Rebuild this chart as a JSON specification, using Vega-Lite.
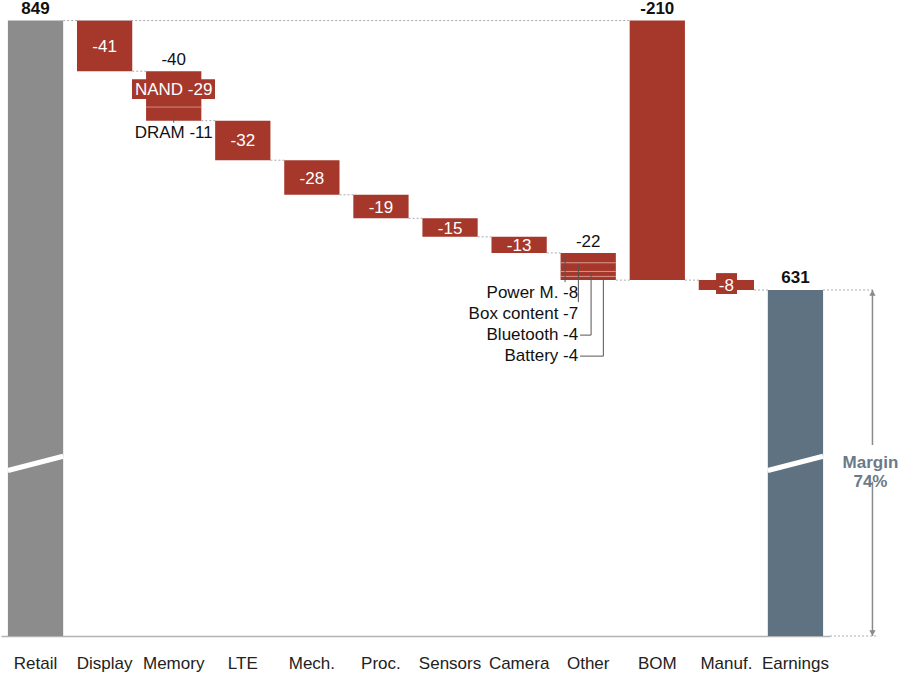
{
  "$schema": "https://vega.github.io/schema/vega-lite/v6.json",
  "width": 829,
  "height": 636,
  "autosize": {"type": "none"},
  "padding": {"left": 1, "top": 0, "right": 70, "bottom": 44},
  "background": "white",
  "config": {
    "view": {"stroke": null},
    "font": "Liberation Sans",
    "text": {"font": "Liberation Sans", "fontSize": 17}
  },
  "datasets": {
    "bars": [
      {"cat": "Retail", "seg": "Retail", "start": 0, "end": 849, "kind": "total"},
      {"cat": "Display", "seg": "Display", "start": 849, "end": 808, "kind": "cost", "label": "-41"},
      {"cat": "Memory", "seg": "NAND", "start": 808, "end": 779, "kind": "cost", "label": "NAND -29"},
      {"cat": "Memory", "seg": "DRAM", "start": 779, "end": 768, "kind": "cost", "label": "DRAM -11"},
      {"cat": "LTE", "seg": "LTE", "start": 768, "end": 736, "kind": "cost", "label": "-32"},
      {"cat": "Mech.", "seg": "Mech.", "start": 736, "end": 708, "kind": "cost", "label": "-28"},
      {"cat": "Proc.", "seg": "Proc.", "start": 708, "end": 689, "kind": "cost", "label": "-19"},
      {"cat": "Sensors", "seg": "Sensors", "start": 689, "end": 674, "kind": "cost", "label": "-15"},
      {"cat": "Camera", "seg": "Camera", "start": 674, "end": 661, "kind": "cost", "label": "-13"},
      {"cat": "Other", "seg": "Power M.", "start": 661, "end": 653, "kind": "cost", "label": "Power M. -8"},
      {"cat": "Other", "seg": "Box content", "start": 653, "end": 646, "kind": "cost", "label": "Box content -7"},
      {"cat": "Other", "seg": "Bluetooth", "start": 646, "end": 642, "kind": "cost", "label": "Bluetooth -4"},
      {"cat": "Other", "seg": "Battery", "start": 642, "end": 639, "kind": "cost", "label": "Battery -4"},
      {"cat": "BOM", "seg": "BOM", "start": 849, "end": 639, "kind": "cost", "label": "-210"},
      {"cat": "Manuf.", "seg": "Manuf.", "start": 639, "end": 631, "kind": "cost", "label": "-8"},
      {"cat": "Earnings", "seg": "Earnings", "start": 0, "end": 631, "kind": "net", "label": "631"}
    ],
    "links": [
      {"from": "Retail", "to": "BOM", "value": 849},
      {"from": "Display", "to": "Memory", "value": 808},
      {"from": "Memory", "to": "LTE", "value": 768},
      {"from": "LTE", "to": "Mech.", "value": 736},
      {"from": "Mech.", "to": "Proc.", "value": 708},
      {"from": "Proc.", "to": "Sensors", "value": 689},
      {"from": "Sensors", "to": "Camera", "value": 674},
      {"from": "Camera", "to": "Other", "value": 661},
      {"from": "Other", "to": "BOM", "value": 639},
      {"from": "BOM", "to": "Manuf.", "value": 639},
      {"from": "Manuf.", "to": "Earnings", "value": 631}
    ],
    "tops": [
      {"cat": "Retail", "label": "849", "value": 849},
      {"cat": "BOM", "label": "-210", "value": 849},
      {"cat": "Earnings", "label": "631", "value": 631}
    ],
    "groups": [
      {"cat": "Memory", "label": "-40", "value": 808},
      {"cat": "Other", "label": "-22", "value": 661}
    ]
  },
  "layer": [
    {
      "data": {"name": "bars"},
      "mark": {"type": "bar"},
      "encoding": {
        "x": {
          "field": "cat", "type": "nominal",
          "scale": {"domain": ["Retail", "Display", "Memory", "LTE", "Mech.", "Proc.", "Sensors", "Camera", "Other", "BOM", "Manuf.", "Earnings"], "paddingInner": 0.2, "paddingOuter": 0.1},
          "axis": {"title": null, "orient": "bottom", "ticks": false, "domain": true, "domainColor": "#b3b3b3", "domainWidth": 1.5, "labels": true, "labelFontSize": 17, "labelFont": "Liberation Sans", "labelColor": "#222222", "labelPadding": 19, "labelAngle": 0, "grid": false}
        },
        "y": {"field": "start", "type": "quantitative", "scale": {"domain": [351.1, 865.6], "nice": false, "zero": false, "clamp": true}, "axis": null},
        "y2": {"field": "end"},
        "color": {"field": "kind", "type": "nominal", "scale": {"domain": ["total", "cost", "net"], "range": ["#8c8c8c", "#a5372b", "#5f7282"]}, "legend": null}
      }
    },
    {
      "data": {"name": "bars"},
      "transform": [{"filter": {"field": "kind", "oneOf": ["total", "net"]}}],
      "mark": {"type": "rule", "color": "white", "strokeWidth": 5},
      "encoding": {
        "x": {"field": "cat", "type": "nominal", "bandPosition": 0},
        "x2": {"field": "cat", "bandPosition": 1},
        "y": {"datum": 485, "type": "quantitative", "axis": null},
        "y2": {"datum": 496.5}
      }
    },
    {
      "data": {"name": "bars"},
      "transform": [{"filter": {"field": "seg", "oneOf": ["DRAM", "Box content", "Bluetooth", "Battery"]}}],
      "mark": {"type": "rule", "color": "#d68f85", "strokeWidth": 1},
      "encoding": {
        "x": {"field": "cat", "type": "nominal", "bandPosition": 0},
        "x2": {"field": "cat", "bandPosition": 1},
        "y": {"field": "start", "type": "quantitative", "axis": null}
      }
    },
    {
      "data": {"name": "links"},
      "mark": {"type": "rule", "color": "#aaaaaa", "strokeWidth": 1, "strokeDash": [2, 2]},
      "encoding": {
        "x": {"field": "from", "type": "nominal", "bandPosition": 1},
        "x2": {"field": "to", "bandPosition": 0},
        "y": {"field": "value", "type": "quantitative", "axis": null}
      }
    },
    {
      "data": {"name": "bars"},
      "transform": [{"filter": {"field": "seg", "equal": "NAND"}}],
      "mark": {"type": "rect", "color": "#a5372b", "yOffset": 8, "y2Offset": -8},
      "encoding": {
        "x": {"field": "cat", "type": "nominal", "bandPosition": -0.255},
        "x2": {"field": "cat", "bandPosition": 1.247},
        "y": {"field": "start", "type": "quantitative", "axis": null},
        "y2": {"field": "end"}
      }
    },
    {
      "data": {"name": "bars"},
      "transform": [{"filter": {"field": "seg", "equal": "Manuf."}}],
      "mark": {"type": "rect", "color": "#a5372b", "yOffset": -7, "y2Offset": 4},
      "encoding": {
        "x": {"field": "cat", "type": "nominal", "bandPosition": 0.313},
        "x2": {"field": "cat", "bandPosition": 0.693},
        "y": {"field": "start", "type": "quantitative", "axis": null},
        "y2": {"field": "end"}
      }
    },
    {
      "data": {"name": "bars"},
      "transform": [
        {"filter": {"field": "seg", "oneOf": ["Display", "NAND", "LTE", "Mech.", "Proc.", "Sensors", "Camera", "Manuf."]}},
        {"calculate": "(datum.start + datum.end) / 2", "as": "mid"}
      ],
      "mark": {"type": "text", "color": "white", "fontSize": 17, "baseline": "middle", "dy": 1},
      "encoding": {
        "x": {"field": "cat", "type": "nominal"},
        "y": {"field": "mid", "type": "quantitative", "axis": null},
        "text": {"field": "label"}
      }
    },
    {
      "data": {"name": "tops"},
      "mark": {"type": "text", "color": "#111111", "fontSize": 17, "fontWeight": "bold", "baseline": "middle", "dy": -12},
      "encoding": {
        "x": {"field": "cat", "type": "nominal"},
        "y": {"field": "value", "type": "quantitative", "axis": null},
        "text": {"field": "label"}
      }
    },
    {
      "data": {"name": "groups"},
      "mark": {"type": "text", "color": "#111111", "fontSize": 17, "baseline": "middle", "dy": -11},
      "encoding": {
        "x": {"field": "cat", "type": "nominal"},
        "y": {"field": "value", "type": "quantitative", "axis": null},
        "text": {"field": "label"}
      }
    },
    {
      "data": {"name": "bars"},
      "transform": [{"filter": {"field": "seg", "equal": "DRAM"}}],
      "mark": {"type": "text", "color": "#111111", "fontSize": 17, "baseline": "middle", "dy": 12},
      "encoding": {
        "x": {"field": "cat", "type": "nominal"},
        "y": {"field": "end", "type": "quantitative", "axis": null},
        "text": {"field": "label"}
      }
    },
    {
      "data": {"name": "bars"},
      "transform": [{"filter": {"field": "seg", "equal": "DRAM"}}],
      "mark": {"type": "rule", "color": "#555555", "strokeWidth": 1, "yOffset": 8, "y2Offset": 2},
      "encoding": {
        "x": {"field": "cat", "type": "nominal"},
        "y": {"field": "start", "type": "quantitative", "axis": null},
        "y2": {"field": "end"}
      }
    },
    {
      "data": {"name": "bars"},
      "transform": [{"filter": {"field": "seg", "equal": "Power M."}}],
      "mark": {"type": "text", "color": "#111111", "fontSize": 17, "baseline": "middle", "align": "right", "dx": -10, "dy": 13},
      "encoding": {
        "x": {"field": "cat", "type": "nominal"},
        "y": {"datum": 639, "type": "quantitative", "axis": null},
        "text": {"field": "label"}
      }
    },
    {
      "data": {"name": "bars"},
      "transform": [{"filter": {"field": "seg", "equal": "Box content"}}],
      "mark": {"type": "text", "color": "#111111", "fontSize": 17, "baseline": "middle", "align": "right", "dx": -10, "dy": 34},
      "encoding": {
        "x": {"field": "cat", "type": "nominal"},
        "y": {"datum": 639, "type": "quantitative", "axis": null},
        "text": {"field": "label"}
      }
    },
    {
      "data": {"name": "bars"},
      "transform": [{"filter": {"field": "seg", "equal": "Bluetooth"}}],
      "mark": {"type": "text", "color": "#111111", "fontSize": 17, "baseline": "middle", "align": "right", "dx": -10, "dy": 55},
      "encoding": {
        "x": {"field": "cat", "type": "nominal"},
        "y": {"datum": 639, "type": "quantitative", "axis": null},
        "text": {"field": "label"}
      }
    },
    {
      "data": {"name": "bars"},
      "transform": [{"filter": {"field": "seg", "equal": "Battery"}}],
      "mark": {"type": "text", "color": "#111111", "fontSize": 17, "baseline": "middle", "align": "right", "dx": -10, "dy": 76},
      "encoding": {
        "x": {"field": "cat", "type": "nominal"},
        "y": {"datum": 639, "type": "quantitative", "axis": null},
        "text": {"field": "label"}
      }
    },
    {
      "data": {"name": "bars"},
      "transform": [{"filter": {"field": "seg", "equal": "Power M."}}],
      "mark": {"type": "rule", "color": "#555555", "strokeWidth": 1, "yOffset": 3, "y2Offset": 2},
      "encoding": {
        "x": {"field": "cat", "type": "nominal", "bandPosition": 0.081},
        "y": {"field": "start", "type": "quantitative", "axis": null},
        "y2": {"datum": 639}
      }
    },
    {
      "data": {"name": "bars"},
      "transform": [{"filter": {"field": "seg", "equal": "Box content"}}],
      "mark": {"type": "rule", "color": "#555555", "strokeWidth": 1, "yOffset": 2, "y2Offset": 22},
      "encoding": {
        "x": {"field": "cat", "type": "nominal", "bandPosition": 0.322},
        "y": {"field": "start", "type": "quantitative", "axis": null},
        "y2": {"datum": 639}
      }
    },
    {
      "data": {"name": "bars"},
      "transform": [{"filter": {"field": "seg", "equal": "Bluetooth"}}],
      "mark": {"type": "rule", "color": "#555555", "strokeWidth": 1, "yOffset": 1, "y2Offset": 55},
      "encoding": {
        "x": {"field": "cat", "type": "nominal", "bandPosition": 0.552},
        "y": {"field": "start", "type": "quantitative", "axis": null},
        "y2": {"datum": 639}
      }
    },
    {
      "data": {"name": "bars"},
      "transform": [{"filter": {"field": "seg", "equal": "Battery"}}],
      "mark": {"type": "rule", "color": "#555555", "strokeWidth": 1, "yOffset": 1, "y2Offset": 76},
      "encoding": {
        "x": {"field": "cat", "type": "nominal", "bandPosition": 0.774},
        "y": {"field": "start", "type": "quantitative", "axis": null},
        "y2": {"datum": 639}
      }
    },
    {
      "data": {"name": "bars"},
      "transform": [{"filter": {"field": "seg", "equal": "Bluetooth"}}],
      "mark": {"type": "rule", "color": "#555555", "strokeWidth": 1, "yOffset": 55},
      "encoding": {
        "x": {"field": "cat", "type": "nominal", "bandPosition": 0.353},
        "x2": {"field": "cat", "bandPosition": 0.552},
        "y": {"datum": 639, "type": "quantitative", "axis": null}
      }
    },
    {
      "data": {"name": "bars"},
      "transform": [{"filter": {"field": "seg", "equal": "Battery"}}],
      "mark": {"type": "rule", "color": "#555555", "strokeWidth": 1, "yOffset": 76},
      "encoding": {
        "x": {"field": "cat", "type": "nominal", "bandPosition": 0.353},
        "x2": {"field": "cat", "bandPosition": 0.774},
        "y": {"datum": 639, "type": "quantitative", "axis": null}
      }
    },
    {
      "data": {"name": "bars"},
      "transform": [{"filter": {"field": "cat", "equal": "Earnings"}}],
      "mark": {"type": "rule", "color": "#aaaaaa", "strokeWidth": 1, "strokeDash": [2, 2], "x2Offset": 52},
      "encoding": {
        "x": {"field": "cat", "type": "nominal", "bandPosition": 1},
        "x2": {"field": "cat", "bandPosition": 1},
        "y": {"field": "end", "type": "quantitative", "axis": null}
      }
    },
    {
      "data": {"name": "bars"},
      "transform": [{"filter": {"field": "cat", "equal": "Earnings"}}],
      "mark": {"type": "rule", "color": "#aaaaaa", "strokeWidth": 1, "strokeDash": [2, 2], "xOffset": 7, "x2Offset": 53},
      "encoding": {
        "x": {"field": "cat", "type": "nominal", "bandPosition": 1},
        "x2": {"field": "cat", "bandPosition": 1},
        "y": {"datum": 0, "type": "quantitative", "axis": null}
      }
    },
    {
      "data": {"name": "bars"},
      "transform": [{"filter": {"field": "cat", "equal": "Earnings"}}],
      "mark": {"type": "rule", "color": "#8a8a8a", "strokeWidth": 1.5, "xOffset": 77},
      "encoding": {
        "x": {"field": "cat", "type": "nominal"},
        "y": {"field": "end", "type": "quantitative", "axis": null},
        "y2": {"datum": 505.6}
      }
    },
    {
      "data": {"name": "bars"},
      "transform": [{"filter": {"field": "cat", "equal": "Earnings"}}],
      "mark": {"type": "rule", "color": "#8a8a8a", "strokeWidth": 1.5, "xOffset": 77},
      "encoding": {
        "x": {"field": "cat", "type": "nominal"},
        "y": {"datum": 475.9, "type": "quantitative", "axis": null},
        "y2": {"datum": 0}
      }
    },
    {
      "data": {"name": "bars"},
      "transform": [{"filter": {"field": "cat", "equal": "Earnings"}}],
      "mark": {"type": "point", "shape": "triangle-up", "filled": true, "color": "#8a8a8a", "size": 40, "opacity": 1, "xOffset": 77, "yOffset": 3},
      "encoding": {
        "x": {"field": "cat", "type": "nominal"},
        "y": {"field": "end", "type": "quantitative", "axis": null}
      }
    },
    {
      "data": {"name": "bars"},
      "transform": [{"filter": {"field": "cat", "equal": "Earnings"}}],
      "mark": {"type": "point", "shape": "triangle-down", "filled": true, "color": "#8a8a8a", "size": 40, "opacity": 1, "xOffset": 77, "yOffset": -3},
      "encoding": {
        "x": {"field": "cat", "type": "nominal"},
        "y": {"datum": 0, "type": "quantitative", "axis": null}
      }
    },
    {
      "data": {"name": "bars"},
      "transform": [{"filter": {"field": "cat", "equal": "Earnings"}}],
      "mark": {"type": "text", "color": "#6b7a89", "fontSize": 17, "fontWeight": "bold", "baseline": "middle", "align": "center", "lineHeight": 19, "xOffset": 75},
      "encoding": {
        "x": {"field": "cat", "type": "nominal"},
        "y": {"datum": 491, "type": "quantitative", "axis": null},
        "text": {"value": ["Margin", "74%"]}
      }
    }
  ]
}
